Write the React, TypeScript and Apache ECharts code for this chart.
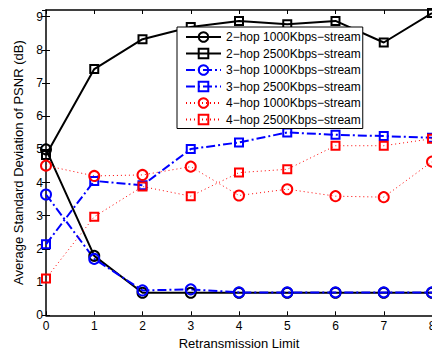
import React, { useEffect, useRef } from "react";
import * as echarts from "echarts";

const xValues = [0, 1, 2, 3, 4, 5, 6, 7, 8];
const seriesNames = [
  "2\u2212hop 1000Kbps\u2212stream",
  "2\u2212hop 2500Kbps\u2212stream",
  "3\u2212hop 1000Kbps\u2212stream",
  "3\u2212hop 2500Kbps\u2212stream",
  "4\u2212hop 1000Kbps\u2212stream",
  "4\u2212hop 2500Kbps\u2212stream",
];
const hop2k1000 = [5.0, 1.79, 0.68, 0.68, 0.68, 0.68, 0.68, 0.68, 0.68];
const hop2k2500 = [4.83, 7.42, 8.32, 8.69, 8.87, 8.77, 8.87, 8.22, 9.11];
const hop3k1000 = [3.64, 1.7, 0.75, 0.78, 0.69, 0.69, 0.69, 0.69, 0.69];
const hop3k2500 = [2.14, 4.05, 3.92, 5.01, 5.21, 5.51, 5.44, 5.4, 5.35];
const hop4k1000 = [4.51, 4.2, 4.23, 4.48, 3.61, 3.8, 3.59, 3.56, 4.63];
const hop4k2500 = [1.11, 2.97, 3.88, 3.59, 4.3, 4.4, 5.11, 5.11, 5.32];

const FONT = "'Liberation Sans', Arial, Helvetica, sans-serif";

export default function App() {
  const ref = useRef<HTMLDivElement>(null);
  useEffect(() => {
    if (!ref.current) return;
    const chart = echarts.init(ref.current, undefined, { renderer: "svg" });
    const mk = (
      name: string,
      data: number[],
      color: string,
      symbol: string,
      symbolSize: number,
      lineType: any,
      lineWidth: number
    ) => ({
      name,
      type: "line",
      data: xValues.map((x, i) => [x, data[i]]),
      symbol,
      symbolSize,
      showSymbol: true,
      lineStyle: { color, width: lineWidth, type: lineType },
      itemStyle: { color: "rgba(0,0,0,0)", borderColor: color, borderWidth: 2 },
      emphasis: { disabled: true },
    });
    chart.setOption({
      animation: false,
      textStyle: { fontFamily: FONT },
      grid: { left: 46, right: 0, top: 10, bottom: 36.7, containLabel: false, outerBoundsMode: "none" },
      legend: {
        orient: "vertical",
        left: 177,
        top: 27,
        padding: [4, 2, 3, 8],
        itemWidth: 35,
        itemHeight: 12,
        itemGap: 4.5,
        backgroundColor: "#fff",
        borderColor: "#000",
        borderWidth: 1,
        borderRadius: 0,
        textStyle: { fontSize: 12, color: "#000", fontFamily: FONT },
        data: seriesNames,
      },
      xAxis: [
        {
          type: "value",
          min: 0,
          max: 8,
          interval: 1,
          name: "Retransmission Limit",
          nameLocation: "middle",
          nameGap: 18,
          nameTextStyle: { fontSize: 13, color: "#000", fontFamily: FONT },
          axisLine: { show: true, onZero: false, lineStyle: { color: "#000", width: 1.5 } },
          axisTick: { show: true, inside: true, length: 4, lineStyle: { color: "#000", width: 1 } },
          axisLabel: { fontSize: 12, color: "#000", margin: 5, fontFamily: FONT },
          splitLine: { show: false },
        },
        {
          type: "value",
          position: "top",
          min: 0,
          max: 8,
          interval: 1,
          axisLine: { show: true, onZero: false, lineStyle: { color: "#000", width: 1.5 } },
          axisTick: { show: true, inside: true, length: 4, lineStyle: { color: "#000", width: 1 } },
          axisLabel: { show: false },
          splitLine: { show: false },
        },
      ],
      yAxis: [
        {
          type: "value",
          min: 0,
          max: 9.2,
          interval: 1,
          name: "Average Standard Deviation of PSNR (dB)",
          nameLocation: "middle",
          nameGap: 16,
          nameTextStyle: { fontSize: 13, color: "#000", fontFamily: FONT },
          axisLine: { show: true, onZero: false, lineStyle: { color: "#000", width: 1.5 } },
          axisTick: { show: true, inside: true, length: 4, lineStyle: { color: "#000", width: 1 } },
          axisLabel: { fontSize: 12, color: "#000", margin: 3, showMaxLabel: false, fontFamily: FONT },
          splitLine: { show: false },
        },
        {
          type: "value",
          position: "right",
          min: 0,
          max: 9.2,
          interval: 1,
          axisLine: { show: false },
          axisTick: { show: true, inside: true, length: 4, lineStyle: { color: "#000", width: 1 } },
          axisLabel: { show: false },
          splitLine: { show: false },
        },
      ],
      series: [
        mk(seriesNames[0], hop2k1000, "#000000", "circle", 10, "solid", 2),
        mk(seriesNames[1], hop2k2500, "#000000", "rect", 8, "solid", 2),
        mk(seriesNames[2], hop3k1000, "#0000ff", "circle", 10, [9, 3, 2, 3], 2),
        mk(seriesNames[3], hop3k2500, "#0000ff", "rect", 8, [9, 3, 2, 3], 2),
        mk(seriesNames[4], hop4k1000, "#ff0000", "circle", 10, [1, 3], 1),
        mk(seriesNames[5], hop4k2500, "#ff0000", "rect", 8, [1, 3], 1),
      ],
    });
    return () => chart.dispose();
  }, []);
  return <div ref={ref} style={{ width: 432, height: 352, position: "absolute", left: 0, top: 0 }} />;
}
